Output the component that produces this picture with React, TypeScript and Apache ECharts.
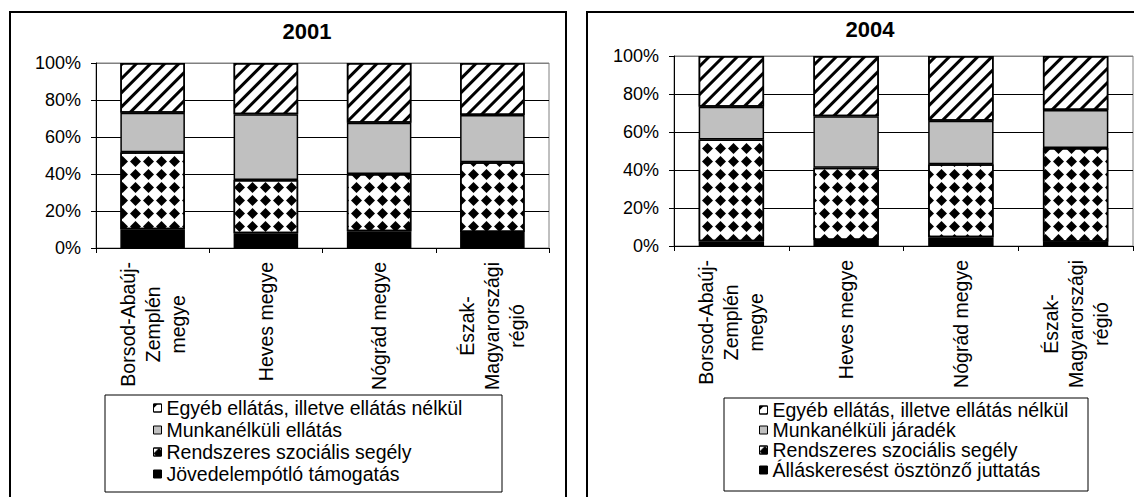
import React, { useEffect, useRef } from 'react';
import * as echarts from 'echarts';

const categories = [
  'Borsod-Abaúj-\nZemplén\nmegye',
  'Heves megye',
  'Nógrád megye',
  'Észak-\nMagyarországi\nrégió',
];

const yTicks = [0, 20, 40, 60, 80, 100];

// 2001 (percent shares, bottom to top)
const names2001 = [
  'Jövedelempótló támogatás',
  'Rendszeres szociális segély',
  'Munkanélküli ellátás',
  'Egyéb ellátás, illetve ellátás nélkül',
];
const jovedelempotlo2001 = [10.1, 8.0, 9.0, 8.6];
const rendszeres2001 = [41.6, 28.8, 31.0, 37.7];
const munkanelkuli2001 = [21.4, 35.5, 27.7, 25.6];
const egyeb2001 = [26.9, 27.7, 32.3, 28.1];

// 2004 (percent shares, bottom to top)
const names2004 = [
  'Álláskeresést ösztönző juttatás',
  'Rendszeres szociális segély',
  'Munkanélküli járadék',
  'Egyéb ellátás, illetve ellátás nélkül',
];
const allaskereses2004 = [2.5, 3.2, 4.6, 2.3];
const rendszeres2004 = [53.6, 38.0, 38.4, 49.3];
const munkanelkuli2004 = [17.2, 27.1, 22.9, 20.0];
const egyeb2004 = [26.7, 31.7, 34.1, 28.4];

const FONT = '"Liberation Sans", Arial, sans-serif';

const diamondDecal = {
  symbol: 'diamond',
  symbolSize: 1,
  dashArrayX: [11, 2],
  dashArrayY: [11, 2],
  color: '#000',
};
const stripeDecal = {
  symbol: 'rect',
  symbolSize: 1,
  dashArrayX: [[1, 0]],
  dashArrayY: [3, 7],
  rotation: -Math.PI / 4,
  color: '#000',
};

const seriesStyles = [
  { color: '#000000' },
  { color: '#ffffff', decal: diamondDecal },
  { color: '#c0c0c0' },
  { color: '#ffffff', decal: stripeDecal },
];

function makeSeries(names: string[], data: number[][], idx: number, stack: string) {
  return names.map((name, i) => ({
    name,
    type: 'bar',
    stack,
    xAxisIndex: idx,
    yAxisIndex: idx,
    barWidth: '57%',
    data: data[i],
    itemStyle: { ...seriesStyles[i], borderColor: '#000', borderWidth: 1.5 },
    emphasis: { disabled: true },
  }));
}

function xAxis(gridIndex: number) {
  return {
    type: 'category',
    gridIndex,
    data: categories,
    axisLine: { lineStyle: { color: '#000', width: 1 } },
    axisTick: { show: true, length: 5, lineStyle: { color: '#000' } },
    axisLabel: {
      rotate: 90,
      interval: 0,
      margin: 14,
      formatter: (v: string) => v.split('\n').map((s) => `{c|${s}}`).join('\n'),
      rich: {
        c: { fontSize: 19.5, lineHeight: 25, align: 'center', fontFamily: FONT, color: '#000' },
      },
    },
  };
}

function yAxis(gridIndex: number) {
  return {
    type: 'value',
    gridIndex,
    min: yTicks[0],
    max: yTicks[yTicks.length - 1],
    interval: yTicks[1] - yTicks[0],
    axisLine: { show: true, lineStyle: { color: '#000', width: 1 } },
    axisTick: { show: true, length: 5, lineStyle: { color: '#000' } },
    axisLabel: { formatter: '{value}%', fontSize: 18, color: '#000', fontFamily: FONT, margin: 15 },
    splitLine: {
      show: true,
      lineStyle: { color: ['#000', '#000', '#000', '#000', '#000', '#808080'], width: 1 },
    },
  };
}

export default function App() {
  const ref = useRef<HTMLDivElement>(null);
  useEffect(() => {
    if (!ref.current) return;
    const chart = echarts.init(ref.current, undefined, { renderer: 'svg' });
    chart.setOption({
      animation: false,
      backgroundColor: '#ffffff',
      title: [
        {
          text: '2001', left: 307, top: 20, textAlign: 'center', padding: 0,
          textStyle: { fontSize: 22, fontWeight: 'bold', color: '#000', fontFamily: FONT },
        },
        {
          text: '2004', left: 870, top: 18, textAlign: 'center', padding: 0,
          textStyle: { fontSize: 22, fontWeight: 'bold', color: '#000', fontFamily: FONT },
        },
      ],
      grid: [
        { left: 96, top: 63, width: 453, height: 185, show: true, borderColor: '#808080', borderWidth: 1, containLabel: false },
        { left: 674, top: 56, width: 459, height: 190, show: true, borderColor: '#808080', borderWidth: 1, containLabel: false },
      ],
      xAxis: [xAxis(0), xAxis(1)],
      yAxis: [yAxis(0), yAxis(1)],
      legend: [
        {
          orient: 'vertical', left: 153, top: 397, padding: 0, itemGap: 0,
          itemWidth: 8, itemHeight: 8, icon: 'rect', selectedMode: false,
          data: [...names2001].reverse(),
          itemStyle: { borderColor: '#000', borderWidth: 1 },
          textStyle: { fontSize: 19.5, lineHeight: 22, color: '#000', fontFamily: FONT, padding: [0, 0, 0, 0] },
        },
        {
          orient: 'vertical', left: 759, top: 400, padding: 0, itemGap: 0,
          itemWidth: 8, itemHeight: 8, icon: 'rect', selectedMode: false,
          data: [...names2004].reverse(),
          itemStyle: { borderColor: '#000', borderWidth: 1 },
          textStyle: { fontSize: 19.5, lineHeight: 20, color: '#000', fontFamily: FONT, padding: [0, 0, 0, 0] },
        },
      ],
      graphic: [
        { type: 'rect', shape: { x: 10, y: 12, width: 556, height: 500 }, style: { fill: 'none', stroke: '#000', lineWidth: 2 }, silent: true, z: -1 },
        { type: 'rect', shape: { x: 587, y: 12, width: 600, height: 500 }, style: { fill: 'none', stroke: '#000', lineWidth: 2 }, silent: true, z: -1 },
        { type: 'rect', shape: { x: 105, y: 395, width: 397, height: 97 }, style: { fill: 'none', stroke: '#000', lineWidth: 1 }, silent: true },
        { type: 'rect', shape: { x: 724, y: 398, width: 364, height: 93 }, style: { fill: 'none', stroke: '#000', lineWidth: 1 }, silent: true },
      ],
      series: [
        ...makeSeries(names2001, [jovedelempotlo2001, rendszeres2001, munkanelkuli2001, egyeb2001], 0, 'y2001'),
        ...makeSeries(names2004, [allaskereses2004, rendszeres2004, munkanelkuli2004, egyeb2004], 1, 'y2004'),
      ],
    });
    return () => chart.dispose();
  }, []);
  return <div ref={ref} style={{ position: 'absolute', left: 0, top: 0, width: 1134, height: 497 }} />;
}
